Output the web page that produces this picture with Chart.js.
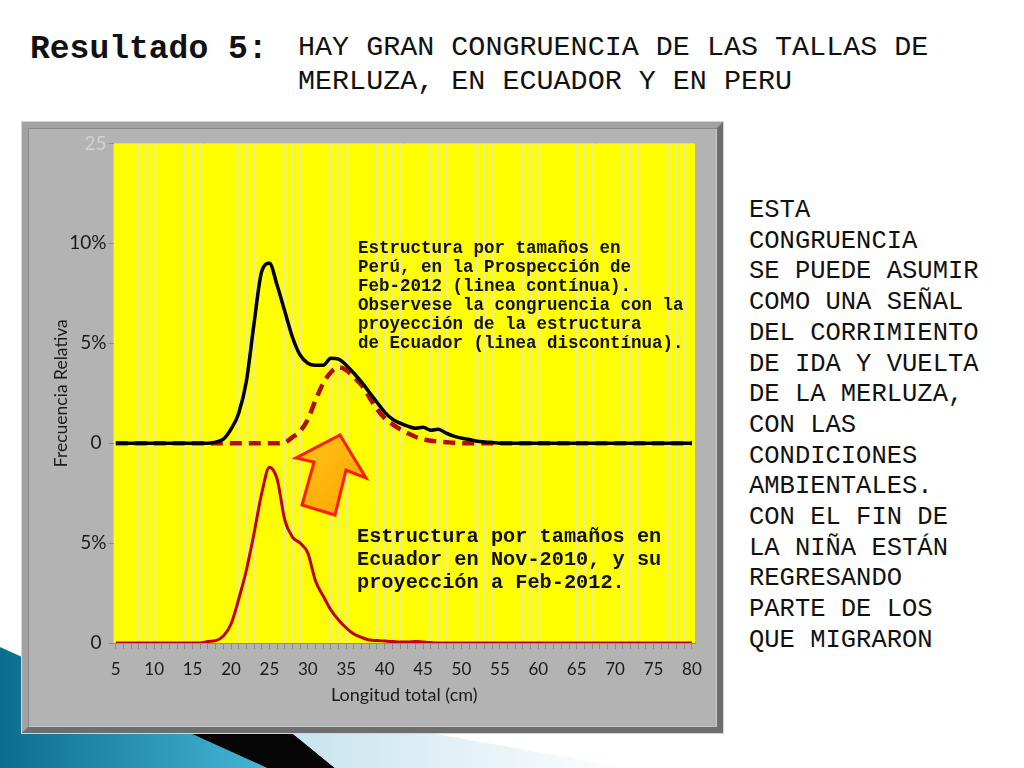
<!DOCTYPE html>
<html>
<head>
<meta charset="utf-8">
<script src="https://cdn.jsdelivr.net/npm/chart.js@4/dist/chart.umd.min.js"></script>
<style>
    html, body { margin: 0; padding: 0; background: #fff; }
    #slide { position: relative; width: 1024px; height: 768px; overflow: hidden; background: #fff; }
    .mono { position: absolute; font-family: "Liberation Mono", monospace; color: #111; white-space: pre; }
    #titulo { left: 30px; top: 30px; font-size: 33px; line-height: 40px; font-weight: bold; }
    #subtitulo { left: 298px; top: 31px; font-size: 28.4px; line-height: 34px; }
    #lateral { left: 749px; top: 196px; font-size: 25.5px; line-height: 30.7px; }
    #marco {
        position: absolute; left: 22px; top: 122px; width: 689px; height: 599px;
        background: #b3b3b3;
        border: 6px solid; border-color: #a2a2a2 #6e6e6e #6e6e6e #a2a2a2;
        outline: 1px solid #d4d4d4;
        box-shadow: inset 1px 1px 0 #8a8a8a, inset -1px -1px 0 #c8c8c8;
    }
    #grafico { position: absolute; left: 30px; top: 130px; width: 686px; height: 594px; }
    .nota { position: absolute; font-family: "Liberation Mono", monospace; font-weight: bold; color: #111; white-space: pre; }
    #notaPeru { left: 358px; top: 239px; font-size: 17.5px; line-height: 19px; }
    #notaEcuador { left: 357px; top: 525px; font-size: 20.3px; line-height: 23px; }
    svg { position: absolute; left: 0; top: 0; }
</style>
</head>
<body>
<div id="slide">
    <svg width="1024" height="768">
        <defs>
            <linearGradient id="teal" x1="0" y1="0" x2="1" y2="0">
                <stop offset="0" stop-color="#0b6d8c"/>
                <stop offset="1" stop-color="#45b6d6"/>
            </linearGradient>
            <linearGradient id="celeste" x1="0" y1="0" x2="1" y2="0">
                <stop offset="0" stop-color="#c4e2ed"/>
                <stop offset="1" stop-color="#ffffff"/>
            </linearGradient>
        </defs>
        <polygon points="0,647 267,768 0,768" fill="url(#teal)"/>
        <polygon points="161,720 276,720 335,768 267,768" fill="#050505"/>
        <polygon points="276,720 430,733 630,768 335,768" fill="url(#celeste)"/>
    </svg>

    <div id="titulo" class="mono">Resultado 5:</div>
    <div id="subtitulo" class="mono">HAY GRAN CONGRUENCIA DE LAS TALLAS DE
MERLUZA, EN ECUADOR Y EN PERU</div>
    <div id="lateral" class="mono">ESTA
CONGRUENCIA
SE PUEDE ASUMIR
COMO UNA SEÑAL
DEL CORRIMIENTO
DE IDA Y VUELTA
DE LA MERLUZA,
CON LAS
CONDICIONES
AMBIENTALES.
CON EL FIN DE
LA NIÑA ESTÁN
REGRESANDO
PARTE DE LOS
QUE MIGRARON</div>

    <div id="marco"></div>
    <div id="grafico"><canvas id="curvas"></canvas></div>

    <div id="notaPeru" class="nota">Estructura por tamaños en
Perú, en la Prospección de
Feb-2012 (linea contínua).
Observese la congruencia con la
proyección de la estructura
de Ecuador (linea discontínua).</div>
    <div id="notaEcuador" class="nota">Estructura por tamaños en
Ecuador en Nov-2010, y su
proyección a Feb-2012.</div>

    <svg width="1024" height="768" style="pointer-events:none">
        <defs>
            <linearGradient id="naranja" x1="0" y1="0" x2="1" y2="1">
                <stop offset="0" stop-color="#ffc61a"/>
                <stop offset="1" stop-color="#ffa200"/>
            </linearGradient>
        </defs>
        <polygon points="340,435 366,478 346,470 335,515 302,505 314,462 296,458"
                 fill="url(#naranja)" stroke="#ff1a00" stroke-width="3" stroke-linejoin="miter"/>
    </svg>
</div>

<script>
    // longitud total (cm)
    const lengths = [
        5, 6, 7, 8, 9, 10, 11, 12, 13, 14, 15, 16, 17, 18, 19, 20, 21, 22, 23, 24,
        25, 26, 27, 28, 29, 30, 31, 32, 33, 34, 35, 36, 37, 38, 39, 40, 41, 42, 43, 44,
        45, 46, 47, 48, 49, 50, 51, 52, 53, 54, 55, 56, 57, 58, 59, 60, 61, 62, 63, 64,
        65, 66, 67, 68, 69, 70, 71, 72, 73, 74, 75, 76, 77, 78, 79, 80
    ];

    // Peru, prospeccion Feb-2012 (%), panel superior
    const peruFeb2012 = [
        0, 0, 0, 0, 0, 0, 0, 0, 0, 0, 0, 0, 0, 0.05, 0.2, 0.7, 1.5, 3.1, 6.0, 8.6,
        9.0, 7.9, 6.6, 5.3, 4.4, 4.0, 3.9, 3.9, 4.25, 4.2, 3.9, 3.5, 3.05, 2.55, 2.05, 1.55, 1.2, 1.0, 0.85, 0.75,
        0.8, 0.65, 0.7, 0.5, 0.35, 0.25, 0.18, 0.1, 0.06, 0.03, 0, 0, 0, 0, 0, 0, 0, 0, 0, 0,
        0, 0, 0, 0, 0, 0, 0, 0, 0, 0, 0, 0, 0, 0, 0, 0
    ];

    // Ecuador proyectado a Feb-2012 (%), panel superior
    const ecuadorProyeccion = [
        0, 0, 0, 0, 0, 0, 0, 0, 0, 0, 0, 0, 0, 0, 0, 0, 0, 0, 0, 0,
        0, 0, 0.03, 0.3, 0.6, 1.2, 2.15, 3.0, 3.55, 3.8, 3.65, 3.3, 2.9, 2.3, 1.7, 1.25, 0.95, 0.7, 0.5, 0.32,
        0.2, 0.12, 0.08, 0.05, 0.02, 0, 0, 0, 0, 0, 0, 0, 0, 0, 0, 0, 0, 0, 0, 0,
        0, 0, 0, 0, 0, 0, 0, 0, 0, 0, 0, 0, 0, 0, 0, 0
    ];

    // Ecuador Nov-2010 (%), panel inferior
    const ecuadorNov2010 = [
        0, 0, 0, 0, 0, 0, 0, 0, 0, 0, 0, 0, 0.08, 0.12, 0.35, 0.95, 2.2, 3.65, 5.5, 7.5,
        8.8, 8.2, 6.15, 5.3, 5.0, 4.5, 3.1, 2.35, 1.65, 1.15, 0.75, 0.45, 0.28, 0.15, 0.12, 0.1, 0.08, 0.05, 0.05, 0.08,
        0.05, 0.02, 0, 0, 0, 0, 0, 0, 0, 0, 0, 0, 0, 0, 0, 0, 0, 0, 0, 0,
        0, 0, 0, 0, 0, 0, 0, 0, 0, 0, 0, 0, 0, 0, 0, 0
    ];

    const yTickValues = [0, 5, 10, 15, 20, 25];
    const yTickLabels = ['0 ', '5%', '0 ', '5%', '10%', '25'];

    const toPoints = values => values.map((v, i) => ({x: lengths[i], y: v}));

    const fondoAmarillo = {
        id: 'fondoAmarillo',
        beforeDraw(chart) {
            const {ctx, chartArea: a} = chart;
            ctx.save();
            ctx.fillStyle = '#ffff00';
            ctx.fillRect(a.left, a.top, a.right - a.left, a.bottom - a.top);
            ctx.restore();
        }
    };

    new Chart(document.getElementById('curvas'), {
        type: 'line',
        data: {
            datasets: [
                {
                    label: 'Perú Feb-2012',
                    data: toPoints(peruFeb2012),
                    yAxisID: 'y2',
                    borderColor: '#000000',
                    borderWidth: 3.5,
                },
                {
                    label: 'Ecuador proyección Feb-2012',
                    data: toPoints(ecuadorProyeccion),
                    yAxisID: 'y2',
                    borderColor: '#b30c0c',
                    borderWidth: 4.5,
                    borderDash: [12, 7],
                },
                {
                    label: 'Ecuador Nov-2010',
                    data: toPoints(ecuadorNov2010),
                    yAxisID: 'y',
                    borderColor: '#c00000',
                    borderWidth: 3,
                }
            ]
        },
        options: {
            responsive: true,
            maintainAspectRatio: false,
            animation: false,
            elements: {
                point: {radius: 0},
                line: {cubicInterpolationMode: 'monotone', fill: false}
            },
            layout: {padding: {left: 0, right: 21, top: 13, bottom: 0}},
            plugins: {
                legend: {display: false},
                tooltip: {enabled: false}
            },
            scales: {
                x: {
                    type: 'linear',
                    min: 4.7,
                    max: 80.4,
                    afterBuildTicks: scale => {
                        scale.ticks = lengths.map(v => ({value: v}));
                    },
                    afterFit: scale => {
                        scale.height = 81;
                    },
                    ticks: {
                        autoSkip: false,
                        maxRotation: 0,
                        padding: 10,
                        color: '#1a1a1a',
                        font: {family: 'Lato', size: 17},
                        callback: v => (v % 5 === 0 ? String(v) : '')
                    },
                    grid: {
                        color: '#ebeb9a',
                        lineWidth: 1,
                        tickLength: 6,
                        tickColor: '#8c8c8c'
                    },
                    border: {display: true, color: '#8c8c8c'},
                    title: {
                        display: true,
                        text: 'Longitud total (cm)',
                        color: '#1a1a1a',
                        font: {family: 'Lato', size: 18},
                        padding: {top: 4, bottom: 18}
                    }
                },
                y: {
                    min: 0,
                    max: 25,
                    afterBuildTicks: scale => {
                        scale.ticks = yTickValues.map(v => ({value: v}));
                    },
                    afterFit: scale => {
                        scale.width = 83.5;
                    },
                    ticks: {
                        padding: 2,
                        font: {family: 'Lato', size: 19},
                        color: ctx => (ctx.tick && ctx.tick.value === 25 ? '#d2d2d2' : '#1a1a1a'),
                        callback: (v, i) => yTickLabels[i]
                    },
                    grid: {
                        drawOnChartArea: false,
                        tickLength: 5,
                        tickColor: '#8c8c8c'
                    },
                    border: {display: false},
                    title: {
                        display: true,
                        text: 'Frecuencia Relativa',
                        color: '#1a1a1a',
                        font: {family: 'Lato', size: 17.5},
                        padding: {top: 21, bottom: 0}
                    }
                },
                y2: {
                    display: false,
                    min: -10,
                    max: 15
                }
            }
        },
        plugins: [fondoAmarillo]
    });
</script>
</body>
</html>
